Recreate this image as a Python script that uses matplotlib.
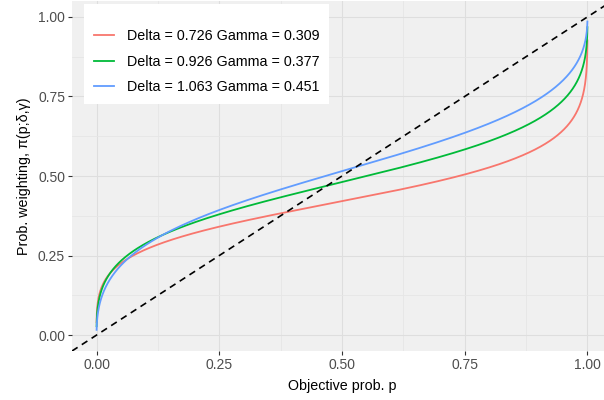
import numpy as np
import matplotlib.pyplot as plt
from matplotlib.ticker import MultipleLocator

plt.rcParams['font.family'] = ['Liberation Sans', 'DejaVu Sans']

# weighting function parameters (from legend)
deltas = [0.726, 0.926, 1.063]
gammas = [0.309, 0.377, 0.451]
colors = ['#F8766D', '#00BA38', '#619CFF']
x_ticks = [0.0, 0.25, 0.5, 0.75, 1.0]
y_ticks = [0.0, 0.25, 0.5, 0.75, 1.0]

p = np.linspace(0.0001, 0.9999, 20000)

fig = plt.figure(figsize=(6.04, 4.0), dpi=100)
ax = fig.add_axes([72 / 604, 49 / 400, 540 / 604, 350 / 400])
ax.set_facecolor('#F0F0F0')

for d, g, c in zip(deltas, gammas, colors):
    w = d * p ** g / (d * p ** g + (1 - p) ** g)
    ax.plot(p, w, color=c, lw=1.3, label=f'Delta = {d:.3f} Gamma = {g:.3f}')

ax.axline((0, 0), slope=1, color='black', lw=1.2, ls=(0, (4, 3)))

ax.set_xlim(-0.05, 1.05)
ax.set_ylim(-0.05, 1.05)
ax.set_xticks(x_ticks)
ax.set_yticks(y_ticks)
ax.set_xticklabels([f'{t:.2f}' for t in x_ticks])
ax.set_yticklabels([f'{t:.2f}' for t in y_ticks])
ax.xaxis.set_minor_locator(MultipleLocator(0.125))
ax.yaxis.set_minor_locator(MultipleLocator(0.125))
ax.grid(which='major', color='#DEDEDE', lw=0.8)
ax.grid(which='minor', color='#E6E6E6', lw=0.6)
ax.set_axisbelow(True)
for s in ax.spines.values():
    s.set_visible(False)
ax.tick_params(which='major', length=3, color='#333333', labelsize=10, labelcolor='#4D4D4D', pad=2)
ax.tick_params(which='minor', length=0)

ax.set_xlabel('Objective prob. p', fontsize=10.3, labelpad=5)
ax.set_ylabel('Prob. weighting, π(p;δ,γ)', fontsize=10.3, labelpad=5)

leg = ax.legend(loc='upper left', bbox_to_anchor=(12 / 540, 1 - 3 / 350), fontsize=10.3,
                title=' ', title_fontsize=2,
                handlelength=1.4, handletextpad=0.9, labelspacing=0.8, borderpad=0.68,
                borderaxespad=0, fancybox=False, framealpha=1, edgecolor='white')
leg.get_frame().set_linewidth(0)

fig.savefig('out.png', dpi=100)
